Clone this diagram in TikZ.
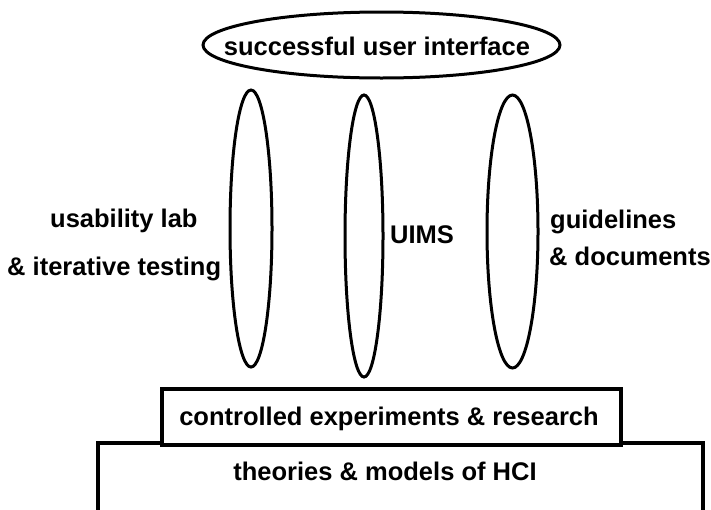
\documentclass[tikz,border=0pt]{standalone}
\usepackage{fontspec}
\setmainfont{Liberation Sans}
\usetikzlibrary{shapes.geometric}
\begin{document}
\begin{tikzpicture}[x=1pt,y=-1pt,
  lens/.style={draw, ellipse, line width=3pt, inner sep=0pt},
  slab/.style={draw, rectangle, line width=4pt, inner sep=0pt, fill=white},
  lbl/.style={inner sep=0pt, font=\fontsize{25.5}{30}\selectfont\bfseries},
  lblw/.style={lbl, anchor=base west},
  lblc/.style={lbl, anchor=base}]
  \useasboundingbox (0,0) rectangle (711,509);
  \clip (0,0) rectangle (711,509);

  % top goal
  \node[lens, minimum width=357pt, minimum height=66pt] (goal) at (381.5,45) {};
  \node[lblc] (goaltxt) at (377,55) {successful user interface};

  % three supporting pillars
  \node[lens, minimum width=42pt, minimum height=277pt] (lab) at (251,228.5) {};
  \node[lens, minimum width=38pt, minimum height=282pt] (uims) at (364,236) {};
  \node[lens, minimum width=51pt, minimum height=273pt] (guide) at (512.5,231.5) {};

  \node[lblw] (labtxt1) at (50,227) {usability lab};
  \node[lblw] (labtxt2) at (7,275) {\& iterative testing};
  \node[lblw] (uimstxt) at (390,243) {UIMS};
  \node[lblw] (guidetxt1) at (550,228) {guidelines};
  \node[lblw] (guidetxt2) at (549,265) {\& documents};

  % foundation layers
  \node[slab, minimum width=605pt, minimum height=100pt] (theory) at (400.5,493) {};
  \node[slab, minimum width=459pt, minimum height=56pt] (research) at (391.5,417) {};
  \node[lblc] (researchtxt) at (389,425) {controlled experiments \& research};
  \node[lblc] (theorytxt) at (385,480) {theories \& models of HCI};
\end{tikzpicture}
\end{document}
